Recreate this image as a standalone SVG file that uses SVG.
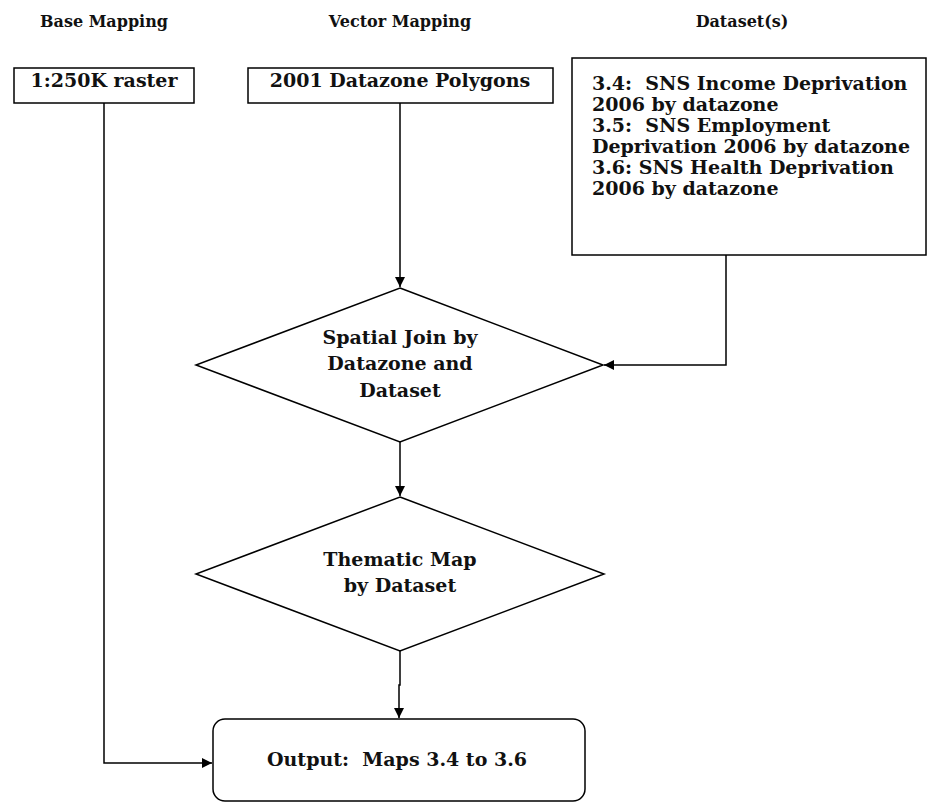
<svg xmlns="http://www.w3.org/2000/svg" width="927" height="803" viewBox="0 0 927 803">
<defs>
<marker id="arr" viewBox="0 0 10 10" refX="10" refY="5" markerWidth="10" markerHeight="10" markerUnits="userSpaceOnUse" orient="auto">
<path d="M0,0 L10,5 L0,10 Z" fill="#000"/>
</marker>
</defs>
<style>
.t{font-family:"DejaVu Serif","Liberation Serif",serif;font-weight:bold;font-size:19px;fill:#111;white-space:pre}
.h{font-size:16px}
.m{text-anchor:middle}
.s{fill:#fff;stroke:#000;stroke-width:1.5}
.c{fill:none;stroke:#000;stroke-width:1.5;marker-end:url(#arr)}
</style>
<rect width="927" height="803" fill="#fff"/>
<g id="headers">
<text class="t h m" x="104" y="27">Base Mapping</text>
<text class="t h m" x="400" y="27">Vector Mapping</text>
<text class="t h m" x="742" y="27">Dataset(s)</text>
</g>
<g id="connectors">
<path class="c" d="M400,103 V287"/>
<path class="c" d="M726,255 V365 H604"/>
<path class="c" d="M400,442 V496"/>
<path class="c" d="M400,651 V685 H399 V718"/>
<path class="c" d="M104,103 V763 H212"/>
</g>
<g id="base">
<rect class="s" x="14" y="68" width="180" height="35"/>
<text class="t m" x="104" y="87">1:250K raster</text>
</g>
<g id="vector">
<rect class="s" x="248" y="68" width="305" height="35"/>
<text class="t m" x="400" y="87">2001 Datazone Polygons</text>
</g>
<g id="dataset">
<rect class="s" x="572" y="58" width="354" height="197"/>
<text class="t" x="592" y="90" xml:space="preserve">3.4:  SNS Income Deprivation</text>
<text class="t" x="592" y="111">2006 by datazone</text>
<text class="t" x="592" y="132" xml:space="preserve">3.5:  SNS Employment</text>
<text class="t" x="592" y="153">Deprivation 2006 by datazone</text>
<text class="t" x="592" y="174">3.6: SNS Health Deprivation</text>
<text class="t" x="592" y="195">2006 by datazone</text>
</g>
<g id="join">
<polygon class="s" points="400,288 603,365 400,442 196,365"/>
<text class="t m" x="400" y="344">Spatial Join by</text>
<text class="t m" x="400" y="370">Datazone and</text>
<text class="t m" x="400" y="397">Dataset</text>
</g>
<g id="thematic">
<polygon class="s" points="400,497 604,574 400,651 196,574"/>
<text class="t m" x="400" y="566">Thematic Map</text>
<text class="t m" x="400" y="592">by Dataset</text>
</g>
<g id="output">
<rect class="s" x="213" y="719" width="372" height="82" rx="12"/>
<text class="t m" x="397" y="766" xml:space="preserve">Output:  Maps 3.4 to 3.6</text>
</g>
</svg>
